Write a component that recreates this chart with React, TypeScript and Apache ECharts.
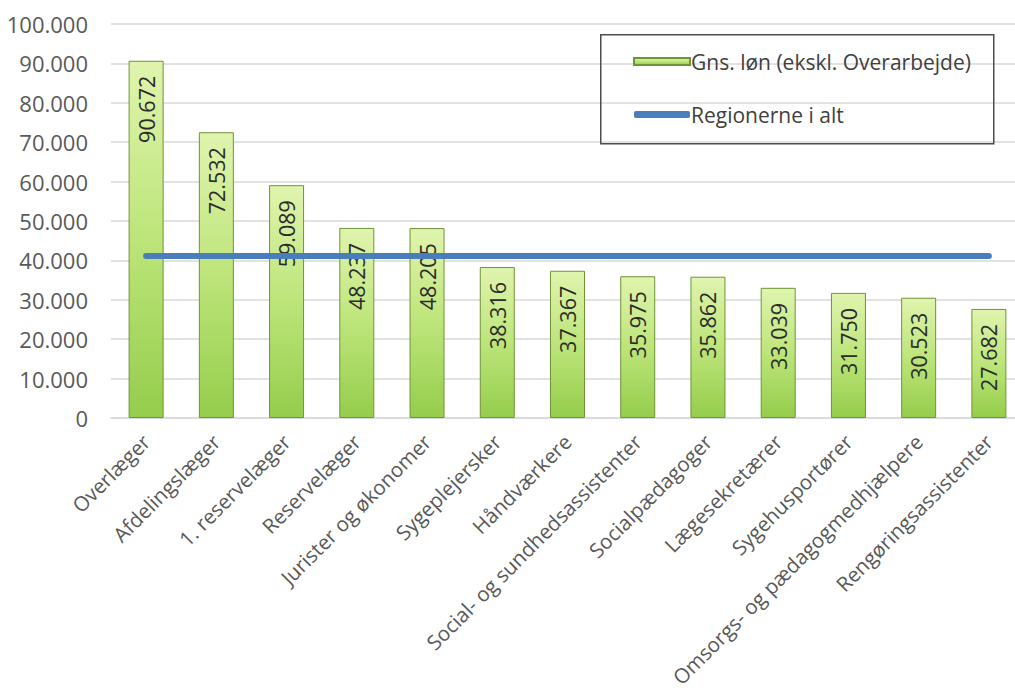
import React, { useEffect, useRef } from "react";
import * as echarts from "echarts";

const categories = [
  "Overlæger",
  "Afdelingslæger",
  "1. reservelæger",
  "Reservelæger",
  "Jurister og økonomer",
  "Sygeplejersker",
  "Håndværkere",
  "Social- og sundhedsassistenter",
  "Socialpædagoger",
  "Lægesekretærer",
  "Sygehusportører",
  "Omsorgs- og pædagogmedhjælpere",
  "Rengøringsassistenter",
];
const salaries = [90672, 72532, 59089, 48237, 48205, 38316, 37367, 35975, 35862, 33039, 31750, 30523, 27682];
const regionTotal = 41100;
const regionLine = categories.map(() => regionTotal);
const barName = "Gns. løn (ekskl. Overarbejde)";
const lineName = "Regionerne i alt";

const fmt = (v: number) => String(Math.round(v)).replace(/\B(?=(\d{3})+(?!\d))/g, ".");

export default function App() {
  const ref = useRef<HTMLDivElement>(null);
  useEffect(() => {
    if (!ref.current) return;
    const chart = echarts.init(ref.current, undefined, { renderer: "svg" });
    const font = "'Open Sans', sans-serif";
    const barColor = new echarts.graphic.LinearGradient(0, 0, 0, 1, [
      { offset: 0, color: "#e0f4ae" },
      { offset: 0.5, color: "#bde57a" },
      { offset: 1, color: "#95cd4c" },
    ]);
    chart.setOption({
      animation: false,
      textStyle: { fontFamily: font },
      grid: { left: 111, top: 24, width: 913, bottom: 275, containLabel: false },
      legend: {
        orient: "vertical",
        left: 628,
        top: 46,
        itemGap: 32,
        itemWidth: 56,
        itemHeight: 7,
        textStyle: { fontSize: 21, color: "#404040", fontFamily: font, padding: [0, 0, 0, -4] },
        data: [
          { name: barName, icon: "rect" },
          { name: lineName, icon: "roundRect" },
        ],
      },
      graphic: [
        {
          type: "rect",
          left: 600,
          top: 34,
          shape: { width: 393, height: 109 },
          style: { fill: "rgba(0,0,0,0)", stroke: "#4d4d4d", lineWidth: 1.5 },
          z: 10,
        },
      ],
      xAxis: {
        type: "category",
        data: categories,
        axisLine: { lineStyle: { color: "#d9d9d9", width: 1.5 } },
        axisTick: { show: false },
        axisLabel: {
          rotate: 45,
          interval: 0,
          fontSize: 20.5,
          color: "#595959",
          margin: 20,
          fontFamily: font,
        },
      },
      yAxis: {
        type: "value",
        min: 0,
        max: 100000,
        interval: 10000,
        axisLine: { show: false },
        axisTick: { show: false },
        splitLine: { lineStyle: { color: "#d9d9d9", width: 1.5 } },
        axisLabel: {
          fontSize: 22,
          color: "#595959",
          margin: 23,
          fontFamily: font,
          formatter: (v: number) => fmt(v),
        },
      },
      series: [
        {
          name: barName,
          type: "bar",
          data: salaries,
          barWidth: 35,
          itemStyle: { color: barColor, borderColor: "#6f9436", borderWidth: 1 },
          label: {
            show: true,
            position: "insideTop",
            rotate: 90,
            align: "right",
            verticalAlign: "middle",
            distance: 15,
            fontSize: 21.5,
            color: "#2b2b2b",
            fontFamily: font,
            formatter: (p: any) => fmt(p.value),
          },
        },
        {
          name: lineName,
          type: "line",
          data: regionLine,
          symbol: "none",
          lineStyle: { color: "#4a7ebb", width: 6, cap: "round" },
          itemStyle: { color: "#4a7ebb" },
          z: 5,
        },
      ],
    });
    return () => chart.dispose();
  }, []);
  return (
    <div style={{ width: 1015, height: 693, position: "absolute", left: 0, top: 0, overflow: "hidden" }}>
      <div ref={ref} style={{ width: 1030, height: 693 }} />
    </div>
  );
}
